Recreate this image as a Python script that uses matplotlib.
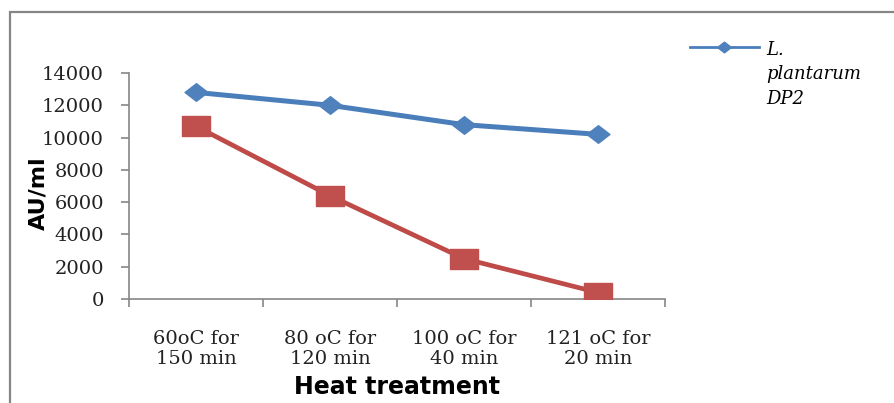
import numpy as np
import matplotlib
matplotlib.use("Agg")
import matplotlib.pyplot as plt
from matplotlib.path import Path
from matplotlib.lines import Line2D
from matplotlib.patches import Rectangle

treatments = ["60oC for\n150 min", "80 oC for\n120 min", "100 oC for\n40 min", "121 oC for\n20 min"]
plantarum_dp2 = [12800, 12000, 10800, 10200]
second_strain = [10700, 6400, 2500, 400]

blue = "#4A7EBB"
red = "#BE4B48"
grey = "#868686"

# markers are a little wider than tall
diamond = Path([(0, 1), (1.3, 0), (0, -1), (-1.3, 0), (0, 1)],
               [Path.MOVETO, Path.LINETO, Path.LINETO, Path.LINETO, Path.CLOSEPOLY])
square = Path([(-1.35, -1), (1.35, -1), (1.35, 1), (-1.35, 1), (-1.35, -1)],
              [Path.MOVETO, Path.LINETO, Path.LINETO, Path.LINETO, Path.CLOSEPOLY])

fig = plt.figure(figsize=(8.94, 4.03), dpi=100)
ax = fig.add_axes([129 / 894, 104 / 403, 536 / 894, 226 / 403])

x = np.arange(len(treatments))
ax.plot(x, plantarum_dp2, color=blue, lw=3.6, marker=diamond, ms=16.5,
        mfc="#4F81BD", mec="#4F81BD", solid_capstyle="round", zorder=3)
ax.plot(x, second_strain, color=red, lw=3.4, marker=square, ms=19.5,
        mfc="#C0504D", mec="#C0504D", zorder=3)

ax.set_xlim(-0.5, len(treatments) - 0.5)
ax.set_ylim(0, 14000)
ax.set_yticks(np.arange(0, 14001, 2000))
ax.set_xticks(np.arange(-0.5, len(treatments)))
ax.set_xticklabels([])
ax.set_xticks(x, minor=True)
ax.set_xticklabels(treatments, minor=True)

for s in ["top", "right"]:
    ax.spines[s].set_visible(False)
for s in ["left", "bottom"]:
    ax.spines[s].set_color(grey)
    ax.spines[s].set_linewidth(1.2)

ax.tick_params(axis="y", which="major", length=6, width=1.2, color=grey, pad=12,
               labelsize=14)
ax.tick_params(axis="x", which="major", length=6, width=1.2, color=grey)
ax.tick_params(axis="x", which="minor", length=0, pad=22, labelsize=14)
for lab in ax.get_yticklabels() + ax.get_xticklabels(minor=True):
    lab.set_family("DejaVu Serif")
    lab.set_color("#222222")

ax.set_xlabel("Heat treatment", fontsize=17, fontweight="bold", family="DejaVu Sans",
              labelpad=5)
fig.text(38 / 894, 1 - 193 / 403, "AU/ml", rotation=90, fontsize=16, fontweight="bold",
         family="DejaVu Sans", ha="center", va="center")

handle = Line2D([], [], color=blue, lw=2, marker=diamond, ms=10,
                mfc="#4F81BD", mec="#4F81BD")
leg = fig.legend([handle], ["L.\nplantarum\nDP2"], loc="upper left",
                 bbox_to_anchor=(690 / 894, 1 - 41 / 403), frameon=False,
                 borderpad=0, borderaxespad=0, handlelength=3.8, handletextpad=0.4,
                 prop={"family": "DejaVu Serif", "style": "italic", "size": 13})
for t in leg.get_texts():
    t.set_linespacing(1.45)
# keep the legend line level with the first line of the label
for column in leg._legend_handle_box.get_children():
    for row in column.get_children():
        row.align = "top"

# outer chart frame, running off the right and bottom edges
fig.add_artist(Rectangle((10 / 894, -0.1), 1.2, 1 - 12 / 403 + 0.1,
                         transform=fig.transFigure, fill=False, ec=grey, lw=1.6,
                         clip_on=False))

fig.savefig("out.png", dpi=100)
